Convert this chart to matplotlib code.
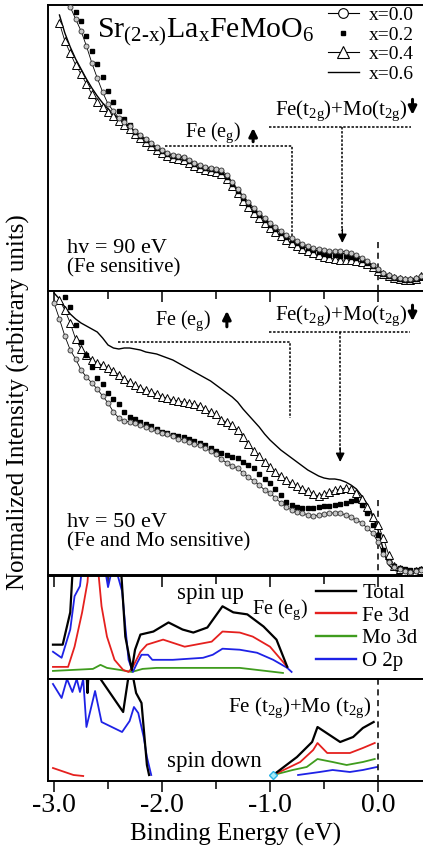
import numpy as np
import matplotlib
matplotlib.use("Agg")
import matplotlib.pyplot as plt
from matplotlib.lines import Line2D

plt.rcParams['font.family'] = ['Liberation Serif', 'DejaVu Serif']
plt.rcParams['mathtext.fontset'] = 'custom'
plt.rcParams['mathtext.rm'] = 'Liberation Serif'
plt.rcParams['mathtext.it'] = 'Liberation Serif:italic'
plt.rcParams['axes.unicode_minus'] = False

nan = np.nan

# binding energy grid of the photoemission spectra (eV)
energy = [-3.00, -2.95, -2.90, -2.85, -2.80, -2.75, -2.70, -2.65, -2.60, -2.55,
          -2.50, -2.45, -2.40, -2.35, -2.30, -2.25, -2.20, -2.15, -2.10, -2.05,
          -2.00, -1.95, -1.90, -1.85, -1.80, -1.75, -1.70, -1.65, -1.60, -1.55,
          -1.50, -1.45, -1.40, -1.35, -1.30, -1.25, -1.20, -1.15, -1.10, -1.05,
          -1.00, -0.95, -0.90, -0.85, -0.80, -0.75, -0.70, -0.65, -0.60, -0.55,
          -0.50, -0.45, -0.40, -0.35, -0.30, -0.25, -0.20, -0.15, -0.10, -0.05,
          0.00, 0.05, 0.10, 0.15, 0.20, 0.25, 0.30, 0.35, 0.40]

# hv = 90 eV
x00_90 = [nan, nan, nan, 284, 272, 260, 245, 228, 213, 199,
          187, 180, 173, 169, 165, 160, 156, 152, 148, 144,
          141, 138, 136, 135, 134, 131, 128, 126, 124, 123,
          122, 121, 116, 109, 102, 95, 89, 83, 78, 73,
          68, 64, 60, 56, 53, 50, 47, 45, 43, 42,
          41, 40, 40, 40, 39, 38, 36, 33, 30, 26,
          22, 18, 16, 14, 13, 12, 12, 13, 15]
x02_90 = [nan, nan, nan, nan, 279, 270, 255, 240, 227, 214,
          200, 189, 180, 172, 166, 159, 155, 151, 147, 143,
          140, 137, 135, 134, 133, 130, 127, 125, 123, 122,
          121, 119, 114, 107, 100, 93, 87, 81, 76, 71,
          66, 62, 58, 54, 51, 48, 45, 43, 41, 39,
          37, 36, 36, 35, 35, 34, 33, 31, 28, 25,
          21, 17, 15, 13, 12, 11, 11, 12, 14]
x04_90 = [nan, 268, 250, 238, 226, 217, 207, 197, 189, 184,
          179, 175, 170, 166, 162, 157, 153, 149, 145, 141,
          138, 135, 133, 132, 131, 128, 125, 123, 121, 120,
          119, 117, 112, 105, 98, 90, 84, 78, 73, 68,
          63, 59, 55, 51, 48, 45, 42, 40, 38, 36,
          34, 33, 32, 31, 31, 31, 30, 29, 27, 24,
          20, 17, 15, 13, 12, 11, 11, 12, 15]
x06_90 = [nan, 276, 258, 244, 232, 222, 212, 203, 195, 188,
          182, 177, 172, 168, 164, 159, 155, 151, 147, 143,
          140, 137, 135, 134, 133, 130, 127, 125, 123, 122,
          121, 119, 114, 107, 100, 93, 87, 81, 76, 71,
          66, 62, 58, 54, 51, 48, 45, 43, 41, 40,
          39, 38, 38, 38, 37, 36, 34, 32, 29, 25,
          21, 17, 15, 13, 12, 11, 11, 12, 14]

# hv = 50 eV
x00_50 = [272, 256, 239, 225, 216, 205, 198, 192, 186, 179,
          172, 163, 157, 154, 153, 152, 150, 148, 146, 144,
          142, 141, 139, 136, 135, 133, 131, 130, 127, 124,
          121, 116, 112, 109, 107, 102, 98, 94, 90, 85,
          82, 77, 72, 68, 65, 63, 62, 60, 59, 60,
          61, 62, 62, 62, 60, 58, 55, 52, 47, 42,
          33, 21, 13, 8, 6, 4, 3, 4, 5]
x02_50 = [nan, nan, 278, 268, 250, 233, 220, 208, 197, 191,
          182, 176, 171, 163, 158, 156, 153, 151, 149, 146,
          143, 142, 140, 139, 138, 136, 134, 132, 130, 127,
          124, 122, 120, 118, 117, 113, 110, 107, 101, 96,
          92, 86, 80, 73, 70, 68, 67, 67, 67, 68,
          69, 69, 70, 71, 72, 74, 75, 70, 62, 50,
          40, 25, 14, 9, 7, 6, 5, 5, 6]
x04_50 = [nan, 275, 265, 252, 236, 226, 220, 215, 212, 210,
          207, 204, 200, 196, 193, 190, 187, 185, 183, 181,
          178, 177, 175, 174, 173, 172, 171, 169, 166, 163,
          161, 155, 153, 150, 145, 138, 131, 124, 119, 113,
          108, 103, 99, 95, 92, 89, 86, 84, 81, 79,
          81, 83, 85, 86, 87, 86, 82, 76, 68, 58,
          50, 37, 20, 9, 6, 4, 3, 4, 5]
x06_50 = [282, 276, 268, 261, 256, 252, 249, 246, 243, 237,
          230, 227, 226, 227, 227, 226, 225, 223, 222, 221,
          219, 217, 215, 212, 209, 206, 203, 200, 197, 194,
          190, 186, 182, 178, 173, 166, 160, 154, 148, 141,
          135, 130, 125, 121, 117, 113, 109, 105, 102, 99,
          97, 96, 96, 95, 93, 90, 86, 79, 71, 60,
          45, 25, 10, 5, 3, 3, 3, 4, 5]

# calculated DOS, spin up
total_up_e = [-3.01, -2.92, -2.85, -2.80, -2.41, -2.34, -2.28, -2.25, -2.20, -2.08,
              -1.94, -1.81, -1.71, -1.58, -1.44, -1.34, -1.21, -1.06, -0.94, -0.84]
total_up = [34, 34, 66, 160, 160, 42, 9, 29, 44, 47,
            56, 49, 46, 51, 72, 66, 64, 52, 39, 12]
fe_up_e = [-3.01, -2.87, -2.81, -2.74, -2.69, -2.66, -2.62, -2.56, -2.51, -2.44,
           -2.36, -2.31, -2.27, -2.20, -2.14, -1.99, -1.79, -1.54, -1.44, -1.28,
           -1.16, -1.00, -0.84]
fe_up = [12, 12, 32, 66, 96, 140, 140, 72, 42, 19,
         9, 7, 12, 27, 34, 39, 32, 37, 47, 46,
         42, 32, 12]
mo_up_e = [-3.01, -2.64, -2.57, -2.51, -2.39, -2.28, -2.18, -2.05, -1.28, -0.88]
mo_up = [8, 10, 14, 11, 9, 7, 10, 11, 11, 6]
o_up_e = [-3.01, -2.93, -2.85, -2.81, -2.76, -2.72, -2.53, -2.50, -2.46, -2.43,
          -2.37, -2.34, -2.31, -2.27, -2.23, -2.19, -2.13, -2.09, -1.90, -1.62,
          -1.53, -1.44, -1.28, -1.12, -0.97, -0.84, -0.80]
o_up = [27, 21, 49, 82, 92, 130, 110, 91, 110, 110,
        87, 52, 19, 7, 16, 24, 24, 19, 19, 21,
        24, 30, 29, 26, 19, 11, 7]

# calculated DOS, spin down
total_dn_e = [-2.70, -2.69, -2.68, nan, -2.57, -2.36, -2.31, -2.27, -2.24, -2.19,
              -2.16, -2.14, -2.12, nan, -0.97, -0.75, -0.61, -0.56, -0.35, -0.23,
              -0.14, -0.04]
total_dn = [110, 88, 110, nan, 102, 69, 105, 105, 88, 78,
            41, 16, 6, nan, 6, 24, 39, 54, 39, 44,
            53, 59]
fe_dn_e = [-3.01, -2.82, -2.73, nan, -0.97, -0.72, -0.60, -0.56, -0.47, -0.38,
           -0.26, -0.14, -0.03]
fe_dn = [13, 6, 5, nan, 6, 19, 31, 38, 28, 28, 28, 33, 38]
mo_dn_e = [-0.97, -0.79, -0.66, -0.56, -0.42, -0.29, -0.14, -0.03]
mo_dn = [6, 11, 14, 22, 19, 16, 19, 22]
o_dn_e = [-3.01, -2.93, -2.88, -2.83, -2.79, -2.76, -2.73, -2.70, -2.62, -2.56,
          -2.37, -2.30, -2.26, -2.22, -2.17, -2.14, -2.10, nan, -0.74, -0.54,
          -0.42, -0.26, -0.14, -0.01]
o_dn = [97, 83, 102, 89, 102, 89, 102, 54, 90, 59,
        49, 60, 74, 68, 44, 24, 6, nan, 6, 9,
        11, 9, 11, 14]

tick_pos = [-3.0, -2.0, -1.0, 0.0]
tick_labels = ['-3.0', '-2.0', '-1.0', '0.0']
minor_pos = [-2.5, -1.5, -0.5]

RED = '#e5201e'
GREEN = '#3f9c1e'
BLUE = '#1e22e6'

fig = plt.figure(figsize=(4.23, 8.52), dpi=100)
L, W = 48 / 423, 375 / 423
ax1 = fig.add_axes([L, 561 / 852, W, 286 / 852])
ax2 = fig.add_axes([L, 277 / 852, W, 284 / 852])
ax3 = fig.add_axes([L, 173 / 852, W, 103 / 852])
ax4 = fig.add_axes([L, 71 / 852, W, 102 / 852])
axes = [ax1, ax2, ax3, ax4]

for ax, top in zip(axes, [286, 284, 102, 102]):
    ax.set_xlim(-3.056, 0.417)
    ax.set_ylim(0, top)
    ax.set_xticks(tick_pos)
    ax.set_xticks(minor_pos, minor=True)
    ax.tick_params(axis='both', which='both', left=False, right=False,
                   top=False, bottom=False, labelleft=False, labelbottom=False)
    ax.set_yticks([])
    for s in ax.spines.values():
        s.set_linewidth(1.4)
    ax.spines['right'].set_visible(False)

for ax in (ax2, ax3):
    ax.tick_params(axis='x', which='both', top=True, direction='in', width=1.1)
    ax.tick_params(axis='x', which='major', length=8)
    ax.tick_params(axis='x', which='minor', length=6)
ax4.tick_params(axis='x', which='both', bottom=True, direction='out', width=1.1,
                labelbottom=True, labelsize=20, pad=1)
ax4.tick_params(axis='x', which='major', length=8)
ax4.tick_params(axis='x', which='minor', length=6)
ax4.set_xticklabels(tick_labels)
ax4.set_xlabel('Binding Energy (eV)', fontsize=18, labelpad=3)
fig.text(0.043, 0.528, 'Normalized Intensity (arbitrary units)', rotation=90,
         ha='center', va='center', fontsize=18)

dot = (0, (1.6, 1.1))
dash = (0, (4, 3))


def spectra(ax, s00, s02, s04, s06):
    ax.plot(energy, s06, color='k', lw=1.0, zorder=2)
    ax.plot(energy, s04, color='k', lw=0.6, marker='^', ms=6, mfc='white',
            mec='k', mew=0.7, zorder=3)
    ax.plot(energy, s02, ls='none', marker='s', ms=3, mfc='k', mec='k', zorder=4)
    ax.plot(energy, s00, color='k', lw=0.6, marker='o', ms=3.6, mfc='#c8c8c8',
            mec='#303030', mew=0.6, zorder=5)


def spin_arrow(ax, x, y0, y1):
    ax.annotate('', xy=(x, y1), xytext=(x, y0), xycoords='axes fraction',
                arrowprops=dict(arrowstyle='-|>', color='k', lw=2.2,
                                mutation_scale=12, shrinkA=0, shrinkB=0))


def head(ax, x, y):
    ax.annotate('', xy=(x, y), xytext=(x, y + 14),
                arrowprops=dict(arrowstyle='-|>', color='k', lw=1.0,
                                mutation_scale=13, shrinkA=0, shrinkB=0))


# ---- panel 1: hv = 90 eV
spectra(ax1, x00_90, x02_90, x04_90, x06_90)
ax1.text(0.131, 0.888, r'Sr$_{\mathrm{(2\text{-}x)}}$La$_{\mathrm{x}}$FeMoO$_{6}$',
         transform=ax1.transAxes, fontsize=21.5, va='baseline')
ax1.text(0.05, 0.133, 'hv = 90 eV', transform=ax1.transAxes, fontsize=16, va='baseline')
ax1.text(0.05, 0.066, '(Fe sensitive)', transform=ax1.transAxes, fontsize=15, va='baseline')
ax1.text(0.365, 0.538, r'Fe (e$_{\mathrm{g}}$)', transform=ax1.transAxes,
         fontsize=14.5, va='baseline')
spin_arrow(ax1, 0.547, 0.522, 0.570)
ax1.text(0.605, 0.615, r'Fe(t$_{\mathrm{2g}}$)+Mo(t$_{\mathrm{2g}}$)',
         transform=ax1.transAxes, fontsize=15, va='baseline')
spin_arrow(ax1, 0.972, 0.670, 0.616)
ax1.plot([-1.97, -0.80, -0.80], [145, 145, 49], color='k', lw=1.1, ls=dot)
ax1.plot([-1.01, 0.31], [164, 164], color='k', lw=1.1, ls=dot)
ax1.plot([-0.33, -0.33], [164, 60], color='k', lw=1.1, ls=dot)
head(ax1, -0.33, 48)
ax1.plot([0, 0], [49, 0], color='k', lw=1.1, ls=dash)

leg_handles = [
    Line2D([], [], color='k', lw=0.8, marker='o', ms=7, mfc='white', mec='k', mew=0.8),
    Line2D([], [], ls='none', marker='s', ms=2.6, mfc='k', mec='k'),
    Line2D([], [], color='k', lw=0.8, marker='^', ms=8, mfc='white', mec='k', mew=0.8),
    Line2D([], [], color='k', lw=1.0),
]
ax1.legend(leg_handles, ['x=0.0', 'x=0.2', 'x=0.4', 'x=0.6'], loc='upper right',
           bbox_to_anchor=(0.975, 0.995), frameon=False, fontsize=14,
           handlelength=1.6, handletextpad=0.5, labelspacing=0.1,
           borderpad=0, borderaxespad=0)

# ---- panel 2: hv = 50 eV
spectra(ax2, x00_50, x02_50, x04_50, x06_50)
ax2.text(0.05, 0.169, 'hv = 50 eV', transform=ax2.transAxes, fontsize=16, va='baseline')
ax2.text(0.05, 0.099, '(Fe and Mo sensitive)', transform=ax2.transAxes, fontsize=15,
         va='baseline')
ax2.text(0.285, 0.880, r'Fe (e$_{\mathrm{g}}$)', transform=ax2.transAxes,
         fontsize=14.5, va='baseline')
spin_arrow(ax2, 0.477, 0.874, 0.930)
ax2.text(0.605, 0.898, r'Fe(t$_{\mathrm{2g}}$)+Mo(t$_{\mathrm{2g}}$)',
         transform=ax2.transAxes, fontsize=15, va='baseline')
spin_arrow(ax2, 0.972, 0.950, 0.894)
ax2.plot([-2.41, -0.815, -0.815], [233, 233, 157], color='k', lw=1.1, ls=dot)
ax2.plot([-1.01, 0.30], [243, 243], color='k', lw=1.1, ls=dot)
ax2.plot([-0.35, -0.35], [243, 125], color='k', lw=1.1, ls=dot)
head(ax2, -0.35, 113)
ax2.plot([0, 0], [75, 0], color='k', lw=1.1, ls=dash)

# ---- panel 3: spin up DOS
ax3.plot(mo_up_e, mo_up, color=GREEN, lw=1.3)
ax3.plot(o_up_e, o_up, color=BLUE, lw=1.3)
ax3.plot(fe_up_e, fe_up, color=RED, lw=1.3)
ax3.plot(total_up_e, total_up, color='k', lw=1.6)
ax3.text(0.344, 0.775, 'spin up', transform=ax3.transAxes, fontsize=16.5, va='baseline')
ax3.text(0.544, 0.627, r'Fe (e$_{\mathrm{g}}$)', transform=ax3.transAxes,
         fontsize=14.5, va='baseline')
dos_handles = [Line2D([], [], color=c, lw=1.7) for c in ['k', RED, GREEN, BLUE]]
ax3.legend(dos_handles, ['Total', 'Fe 3d', 'Mo 3d', 'O 2p'], loc='upper right',
           bbox_to_anchor=(0.985, 0.93), frameon=False, fontsize=15,
           handlelength=1.9, handletextpad=0.3, labelspacing=0.15,
           borderpad=0, borderaxespad=0)

# ---- panel 4: spin down DOS
ax4.plot(mo_dn_e, mo_dn, color=GREEN, lw=1.3)
ax4.plot(o_dn_e, o_dn, color=BLUE, lw=1.3)
ax4.plot(fe_dn_e, fe_dn, color=RED, lw=1.3)
ax4.plot(total_dn_e, total_dn, color='k', lw=1.6)
ax4.plot([-0.97], [6], ls='none', marker='D', ms=4.5, mfc='#a8ecf8', mec='#29b3e6',
         mew=1.0, zorder=6)
ax4.axvline(0, color='k', lw=1.1, ls=dash)
ax4.text(0.48, 0.676, r'Fe (t$_{\mathrm{2g}}$)+Mo (t$_{\mathrm{2g}}$)',
         transform=ax4.transAxes, fontsize=15, va='baseline')
ax4.text(0.317, 0.137, 'spin down', transform=ax4.transAxes, fontsize=16.5, va='baseline')

fig.savefig('out.png', dpi=100)
